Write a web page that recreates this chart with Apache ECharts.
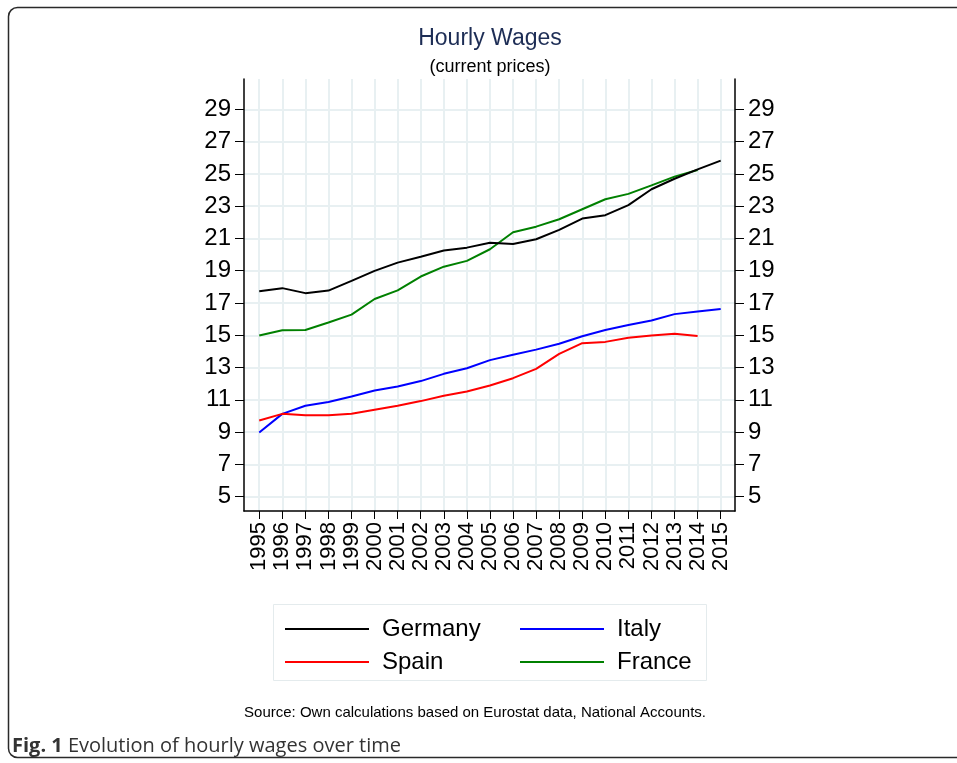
<!DOCTYPE html>
<html>
<head>
<meta charset="utf-8">
<script src="https://cdn.jsdelivr.net/npm/echarts@6/dist/echarts.min.js"></script>
<style>
  html, body { margin: 0; padding: 0; background: #fff; }
  #chart { width: 957px; height: 763px; }
</style>
</head>
<body>
<div id="chart"></div>
<script>
// hourly wages, current prices
const years = [1995, 1996, 1997, 1998, 1999, 2000, 2001, 2002, 2003, 2004, 2005,
  2006, 2007, 2008, 2009, 2010, 2011, 2012, 2013, 2014, 2015]
const germany = [17.73, 17.92, 17.61, 17.77, 18.37, 18.99, 19.5, 19.87, 20.25, 20.43, 20.73,
  20.66, 20.95, 21.53, 22.23, 22.44, 23.06, 24.05, 24.7, 25.28, 25.82]
const italy = [8.98, 10.13, 10.63, 10.86, 11.2, 11.58, 11.82, 12.16, 12.61, 12.96, 13.46,
  13.79, 14.11, 14.47, 14.94, 15.33, 15.64, 15.91, 16.31, 16.47, 16.63]
const spain = [9.72, 10.13, 10.05, 10.05, 10.13, 10.38, 10.63, 10.92, 11.25, 11.51, 11.89,
  12.34, 12.92, 13.85, 14.51, 14.59, 14.84, 14.98, 15.09, 14.96, null]
const france = [14.98, 15.31, 15.33, 15.79, 16.28, 17.25, 17.78, 18.64, 19.25, 19.61, 20.33,
  21.38, 21.73, 22.19, 22.81, 23.43, 23.76, 24.29, 24.83, 25.24, null]
const yTicks = [5, 7, 9, 11, 13, 15, 17, 19, 21, 23, 25, 27, 29]

const font = 'Liberation Sans, Arial, sans-serif'
const gridColor = '#e8f0f2'

const pairs = function (vals) {
  return years.map((y, i) => [y, vals[i]])
}

const mkSeries = function (name, vals, color) {
  return {
    name: name,
    type: 'line',
    data: pairs(vals),
    showSymbol: false,
    symbol: 'none',
    lineStyle: { color: color, width: 2 },
    itemStyle: { color: color },
    connectNulls: false,
    animation: false
  }
}

const yAxisBase = {
  type: 'value',
  min: 4.11,
  max: 30.88,
  axisLine: { show: true, lineStyle: { color: '#000', width: 1.5 } },
  axisTick: { show: true, length: 9, customValues: yTicks, lineStyle: { color: '#000', width: 1 } },
  axisLabel: { customValues: yTicks, color: '#000', fontSize: 24, fontFamily: font, margin: 13 }
}

const chart = echarts.init(document.getElementById('chart'))

chart.setOption({
  backgroundColor: '#fff',
  title: [{
    text: 'Hourly Wages',
    left: 485, top: 22, textAlign: 'center',
    textStyle: { color: '#1d2d55', fontSize: 23, fontWeight: 'normal', fontFamily: font }
  }, {
    text: '(current prices)',
    left: 485, top: 53, textAlign: 'center',
    textStyle: { color: '#000', fontSize: 18, fontWeight: 'normal', fontFamily: font }
  }, {
    text: 'Source: Own calculations based on Eurostat data, National Accounts.',
    left: 470, top: 700, textAlign: 'center',
    textStyle: { color: '#000', fontSize: 15, fontWeight: 'normal', fontFamily: font }
  }, {
    text: '{b|Fig. 1} Evolution of hourly wages over time',
    left: 7, top: 731,
    textStyle: {
      color: '#333', fontSize: 20, fontWeight: 'normal', fontFamily: 'Open Sans, sans-serif',
      rich: { b: { fontWeight: 'bold', fontSize: 20, color: '#333', fontFamily: 'Open Sans, sans-serif' } }
    }
  }],
  legend: [{
    data: ['Germany', 'Spain'],
    orient: 'vertical',
    left: 280, top: 612,
    itemWidth: 84, itemHeight: 14, itemGap: 9,
    icon: 'path://M0,6 L84,6 L84,8 L0,8 Z',
    textStyle: { fontSize: 24, color: '#000', fontFamily: font, padding: [0, 0, 0, 8] }
  }, {
    data: ['Italy', 'France'],
    orient: 'vertical',
    left: 515, top: 612,
    itemWidth: 84, itemHeight: 14, itemGap: 9,
    icon: 'path://M0,6 L84,6 L84,8 L0,8 Z',
    textStyle: { fontSize: 24, color: '#000', fontFamily: font, padding: [0, 0, 0, 8] }
  }],
  graphic: [{
    type: 'rect',
    shape: { x: 273.5, y: 604.5, width: 433, height: 76 },
    style: { fill: 'none', stroke: '#e4ebed', lineWidth: 1 },
    silent: true
  }, {
    type: 'rect',
    shape: { x: 8.5, y: 7.5, width: 1000, height: 750, r: 9 },
    style: { fill: 'none', stroke: '#2a2a2a', lineWidth: 1.5 },
    silent: true
  }],
  grid: { left: 244, right: 222, top: 79, bottom: 252 },
  xAxis: {
    type: 'value',
    min: 1994.34,
    max: 2015.62,
    axisLine: { show: true, onZero: false, lineStyle: { color: '#000', width: 1.5 } },
    axisTick: { show: true, length: 8, customValues: years, lineStyle: { color: '#000', width: 1 } },
    axisLabel: {
      customValues: years, rotate: 90, color: '#000', fontSize: 22,
      fontFamily: font, margin: 11,
      showMinLabel: true, showMaxLabel: true, hideOverlap: false,
      formatter: v => String(v)
    },
    splitLine: { show: true, lineStyle: { color: gridColor, width: 2 } }
  },
  yAxis: [
    Object.assign({}, yAxisBase, {
      position: 'left',
      splitLine: { show: true, lineStyle: { color: gridColor, width: 2 } }
    }),
    Object.assign({}, yAxisBase, {
      position: 'right',
      splitLine: { show: false }
    })
  ],
  series: [
    mkSeries('France', france, '#008000'),
    mkSeries('Germany', germany, '#000000'),
    mkSeries('Italy', italy, '#0000ff'),
    mkSeries('Spain', spain, '#ff0000')
  ]
})
</script>
</body>
</html>
